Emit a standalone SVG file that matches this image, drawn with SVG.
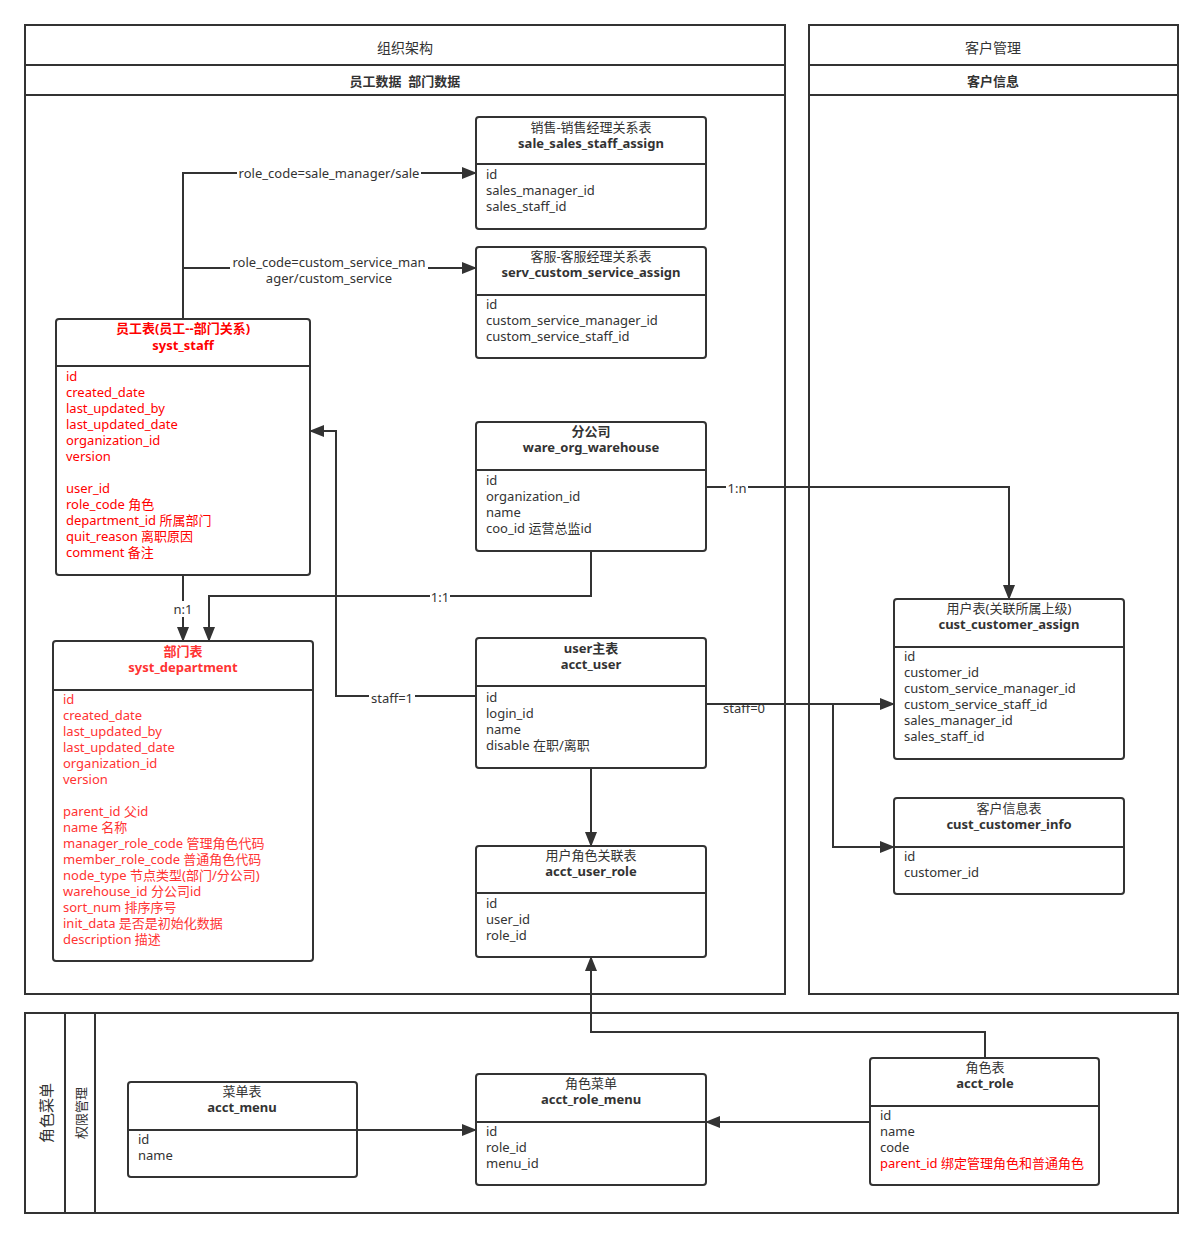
<svg xmlns="http://www.w3.org/2000/svg" width="1203" height="1238" viewBox="0 0 1203 1238">
<defs>
<marker id="arr" markerUnits="userSpaceOnUse" markerWidth="15" markerHeight="12" refX="14" refY="6" orient="auto">
<path d="M0,0 L15,6 L0,12 Z" fill="#333"/>
</marker>
<style>
text{font-family:"Noto Sans","Noto Sans CJK SC",sans-serif;font-size:13px;fill:#333;dominant-baseline:central}
.c{text-anchor:middle}
.b{font-weight:bold}
.r{fill:#ff0000}
.r2{fill:#ff3333}
.box{fill:#fff;stroke:#333;stroke-width:2}
.frame{fill:none;stroke:#333;stroke-width:2}
.ln{fill:none;stroke:#333;stroke-width:2}
.lnk{fill:none;stroke:#333;stroke-width:2;marker-end:url(#arr)}
.lbl{fill:#fff;stroke:none}
.t14{font-size:14px}
</style>
</defs>
<rect width="1203" height="1238" fill="#fff"/>

<g id="container-org">
<rect class="frame" x="25" y="25" width="760" height="969"/>
<line class="ln" x1="25" y1="65" x2="785" y2="65"/>
<line class="ln" x1="25" y1="95" x2="785" y2="95"/>
<text class="c t14" x="405" y="47">组织架构</text>
<text class="c b" x="405" y="81">员工数据&#160;&#160;部门数据</text>
</g>

<g id="container-customer">
<rect class="frame" x="809" y="25" width="369" height="969"/>
<line class="ln" x1="809" y1="65" x2="1178" y2="65"/>
<line class="ln" x1="809" y1="95" x2="1178" y2="95"/>
<text class="c t14" x="993" y="47">客户管理</text>
<text class="c b" x="993" y="81">客户信息</text>
</g>

<g id="container-role">
<rect class="frame" x="25" y="1013" width="1153" height="200"/>
<line class="ln" x1="65" y1="1013" x2="65" y2="1213"/>
<line class="ln" x1="95" y1="1013" x2="95" y2="1213"/>
<text class="c" style="font-size:15px" transform="translate(46,1113) rotate(-90)">角色菜单</text>
<text class="c" transform="translate(81,1113) rotate(-90)">权限管理</text>
</g>

<g id="connectors">
<polyline class="lnk" points="183,319 183,173 476,173"/>
<rect class="lbl" x="237" y="165" width="184" height="16"/>
<text class="c" x="329" y="173">role_code=sale_manager/sale</text>
<polyline class="lnk" points="183,268 476,268"/>
<rect class="lbl" x="230" y="255" width="198" height="31"/>
<text class="c" x="329" y="262">role_code=custom_service_man</text>
<text class="c" x="329" y="278">ager/custom_service</text>

<polyline class="lnk" points="183,575 183,641"/>
<rect class="lbl" x="173" y="601" width="20" height="16"/>
<text class="c" x="183" y="609">n:1</text>

<polyline class="lnk" points="591,551 591,596 209,596 209,641"/>
<rect class="lbl" x="430" y="589" width="20" height="16"/>
<text class="c" x="440" y="597">1:1</text>

<polyline class="lnk" points="476,696 336,696 336,431 310,431"/>
<rect class="lbl" x="369" y="690" width="46" height="16"/>
<text class="c" x="392" y="698">staff=1</text>

<polyline class="lnk" points="706,487 1009,487 1009,599"/>
<rect class="lbl" x="726" y="480" width="22" height="16"/>
<text class="c" x="737" y="488">1:n</text>

<text class="c" x="744" y="708">staff=0</text>
<polyline class="lnk" points="706,704 894,704"/>
<polyline class="lnk" points="833,704 833,847 894,847"/>

<polyline class="lnk" points="591,768 591,846"/>
<polyline class="lnk" points="985,1058 985,1032 591,1032 591,957"/>
<polyline class="lnk" points="357,1130 476,1130"/>
<polyline class="lnk" points="870,1122 706,1122"/>
</g>

<g id="sale_sales_staff_assign">
<rect class="box" x="476" y="117" width="230" height="112" rx="3"/>
<line class="ln" x1="476" y1="164" x2="706" y2="164"/>
<text class="c" x="591" y="127">销售-销售经理关系表</text>
<text class="c b" x="591" y="143">sale_sales_staff_assign</text>
<text x="486" y="174">id</text>
<text x="486" y="190">sales_manager_id</text>
<text x="486" y="206">sales_staff_id</text>
</g>

<g id="serv_custom_service_assign">
<rect class="box" x="476" y="247" width="230" height="111" rx="3"/>
<line class="ln" x1="476" y1="295" x2="706" y2="295"/>
<text class="c" x="591" y="256">客服-客服经理关系表</text>
<text class="c b" x="591" y="272">serv_custom_service_assign</text>
<text x="486" y="304">id</text>
<text x="486" y="320">custom_service_manager_id</text>
<text x="486" y="336">custom_service_staff_id</text>
</g>

<g id="syst_staff">
<rect class="box" x="56" y="319" width="254" height="256" rx="3"/>
<line class="ln" x1="56" y1="366" x2="310" y2="366"/>
<text class="c b r" x="183" y="328">员工表(员工--部门关系)</text>
<text class="c b r" x="183" y="345">syst_staff</text>
<text class="r" x="66" y="376">id</text>
<text class="r" x="66" y="392">created_date</text>
<text class="r" x="66" y="408">last_updated_by</text>
<text class="r" x="66" y="424">last_updated_date</text>
<text class="r" x="66" y="440">organization_id</text>
<text class="r" x="66" y="456">version</text>
<text class="r" x="66" y="488">user_id</text>
<text class="r" x="66" y="504">role_code 角色</text>
<text class="r" x="66" y="520">department_id 所属部门</text>
<text class="r" x="66" y="536">quit_reason 离职原因</text>
<text class="r" x="66" y="552">comment 备注</text>
</g>

<g id="syst_department">
<rect class="box" x="53" y="641" width="260" height="320" rx="3"/>
<line class="ln" x1="53" y1="690" x2="313" y2="690"/>
<text class="c b r2" x="183" y="651">部门表</text>
<text class="c b r2" x="183" y="667">syst_department</text>
<text class="r2" x="63" y="699">id</text>
<text class="r2" x="63" y="715">created_date</text>
<text class="r2" x="63" y="731">last_updated_by</text>
<text class="r2" x="63" y="747">last_updated_date</text>
<text class="r2" x="63" y="763">organization_id</text>
<text class="r2" x="63" y="779">version</text>
<text class="r2" x="63" y="811">parent_id 父id</text>
<text class="r2" x="63" y="827">name 名称</text>
<text class="r2" x="63" y="843">manager_role_code 管理角色代码</text>
<text class="r2" x="63" y="859">member_role_code 普通角色代码</text>
<text class="r2" x="63" y="875">node_type 节点类型(部门/分公司)</text>
<text class="r2" x="63" y="891">warehouse_id 分公司id</text>
<text class="r2" x="63" y="907">sort_num 排序序号</text>
<text class="r2" x="63" y="923">init_data 是否是初始化数据</text>
<text class="r2" x="63" y="939">description 描述</text>
</g>

<g id="ware_org_warehouse">
<rect class="box" x="476" y="422" width="230" height="129" rx="3"/>
<line class="ln" x1="476" y1="470" x2="706" y2="470"/>
<text class="c b" x="591" y="431">分公司</text>
<text class="c b" x="591" y="447">ware_org_warehouse</text>
<text x="486" y="480">id</text>
<text x="486" y="496">organization_id</text>
<text x="486" y="512">name</text>
<text x="486" y="528">coo_id 运营总监id</text>
</g>

<g id="acct_user">
<rect class="box" x="476" y="638" width="230" height="130" rx="3"/>
<line class="ln" x1="476" y1="686" x2="706" y2="686"/>
<text class="c b" x="591" y="648">user主表</text>
<text class="c b" x="591" y="664">acct_user</text>
<text x="486" y="697">id</text>
<text x="486" y="713">login_id</text>
<text x="486" y="729">name</text>
<text x="486" y="745">disable 在职/离职</text>
</g>

<g id="acct_user_role">
<rect class="box" x="476" y="846" width="230" height="111" rx="3"/>
<line class="ln" x1="476" y1="893" x2="706" y2="893"/>
<text class="c" x="591" y="855">用户角色关联表</text>
<text class="c b" x="591" y="871">acct_user_role</text>
<text x="486" y="903">id</text>
<text x="486" y="919">user_id</text>
<text x="486" y="935">role_id</text>
</g>

<g id="cust_customer_assign">
<rect class="box" x="894" y="599" width="230" height="160" rx="3"/>
<line class="ln" x1="894" y1="647" x2="1124" y2="647"/>
<text class="c" x="1009" y="608">用户表(关联所属上级)</text>
<text class="c b" x="1009" y="624">cust_customer_assign</text>
<text x="904" y="656">id</text>
<text x="904" y="672">customer_id</text>
<text x="904" y="688">custom_service_manager_id</text>
<text x="904" y="704">custom_service_staff_id</text>
<text x="904" y="720">sales_manager_id</text>
<text x="904" y="736">sales_staff_id</text>
</g>

<g id="cust_customer_info">
<rect class="box" x="894" y="798" width="230" height="96" rx="3"/>
<line class="ln" x1="894" y1="847" x2="1124" y2="847"/>
<text class="c" x="1009" y="808">客户信息表</text>
<text class="c b" x="1009" y="824">cust_customer_info</text>
<text x="904" y="856">id</text>
<text x="904" y="872">customer_id</text>
</g>

<g id="acct_menu">
<rect class="box" x="128" y="1082" width="229" height="95" rx="3"/>
<line class="ln" x1="128" y1="1130" x2="357" y2="1130"/>
<text class="c" x="242" y="1091">菜单表</text>
<text class="c b" x="242" y="1107">acct_menu</text>
<text x="138" y="1139">id</text>
<text x="138" y="1155">name</text>
</g>

<g id="acct_role_menu">
<rect class="box" x="476" y="1074" width="230" height="111" rx="3"/>
<line class="ln" x1="476" y1="1122" x2="706" y2="1122"/>
<text class="c" x="591" y="1083">角色菜单</text>
<text class="c b" x="591" y="1099">acct_role_menu</text>
<text x="486" y="1131">id</text>
<text x="486" y="1147">role_id</text>
<text x="486" y="1163">menu_id</text>
</g>

<g id="acct_role">
<rect class="box" x="870" y="1058" width="229" height="127" rx="3"/>
<line class="ln" x1="870" y1="1106" x2="1099" y2="1106"/>
<text class="c" x="985" y="1067">角色表</text>
<text class="c b" x="985" y="1083">acct_role</text>
<text x="880" y="1115">id</text>
<text x="880" y="1131">name</text>
<text x="880" y="1147">code</text>
<text class="r" x="880" y="1163">parent_id 绑定管理角色和普通角色</text>
</g>
</svg>
